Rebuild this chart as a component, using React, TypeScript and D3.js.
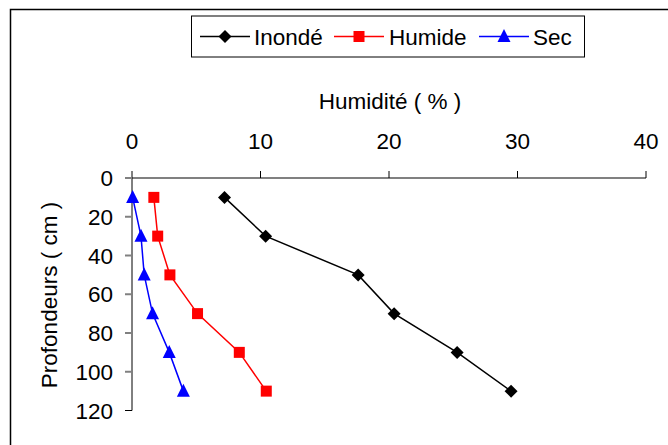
import React from "react";
import * as d3 from "d3";

const depths = [10, 30, 50, 70, 90, 110];
const inonde = [7.2, 10.4, 17.6, 20.4, 25.3, 29.5];
const humide = [1.7, 2.0, 2.95, 5.1, 8.35, 10.45];
const sec = [0.05, 0.7, 0.95, 1.6, 2.9, 4.0];
const xTicks = [0, 10, 20, 30, 40];
const yTicks = [0, 20, 40, 60, 80, 100, 120];
const seriesNames = ["Inondé", "Humide", "Sec"];
const seriesColors = ["#000000", "#ff0000", "#0000ff"];

const FONT = "'Liberation Sans', Arial, sans-serif";
const FS = 22.5;

function Marker({ kind, x, y, color }: { kind: number; x: number; y: number; color: string }) {
  if (kind === 0) {
    const s = 6.5;
    return <path d={`M${x},${y - s}L${x + s},${y}L${x},${y + s}L${x - s},${y}Z`} fill={color} />;
  }
  if (kind === 1) {
    const s = 5.5;
    return <rect x={x - s} y={y - s} width={2 * s} height={2 * s} fill={color} />;
  }
  const s = 6.5;
  return <path d={`M${x},${y - s - 1}L${x + s},${y + s - 1}L${x - s},${y + s - 1}Z`} fill={color} />;
}

export default function App() {
  const x = d3.scaleLinear().domain([0, 40]).range([132, 646]);
  const y = d3.scaleLinear().domain([0, 120]).range([178, 410.5]);
  const data = [inonde, humide, sec];
  const line = d3
    .line<[number, number]>()
    .x((d) => x(d[0]))
    .y((d) => y(d[1]));

  const legendItems = [
    { lx: 200, tx: 254 },
    { lx: 334, tx: 389 },
    { lx: 479, tx: 533 },
  ];

  return (
    <svg
      width={668}
      height={445}
      style={{ position: "absolute", left: 0, top: 0, background: "#fff" }}
      fontFamily={FONT}
    >
      <rect x={0} y={0} width={668} height={445} fill="#fff" />
      <rect x={10.5} y={9.5} width={700} height={500} fill="none" stroke="#000" strokeWidth={1.5} />

      {/* Legend */}
      <rect x={191.5} y={16} width={393} height={41} fill="#fff" stroke="#000" strokeWidth={1} />
      {seriesNames.map((name, i) => (
        <g key={name}>
          <line x1={legendItems[i].lx} x2={legendItems[i].lx + 50} y1={36.5} y2={36.5} stroke={seriesColors[i]} strokeWidth={1.5} />
          <Marker kind={i} x={legendItems[i].lx + 25} y={36.5} color={seriesColors[i]} />
          <text x={legendItems[i].tx} y={44.5} fontSize={FS} fill="#000">
            {name}
          </text>
        </g>
      ))}

      {/* X axis title */}
      <text x={390} y={109} fontSize={FS} textAnchor="middle" fill="#000">
        Humidité ( % )
      </text>

      {/* X axis */}
      <line x1={x(0)} x2={x(40)} y1={178} y2={178} stroke="#808080" strokeWidth={2} />
      {xTicks.map((t) => (
        <g key={t}>
          <line x1={x(t)} x2={x(t)} y1={171} y2={178} stroke="#000" strokeWidth={1} />
          <text x={x(t)} y={148.5} fontSize={FS} textAnchor="middle" fill="#000">
            {t}
          </text>
        </g>
      ))}

      {/* Y axis */}
      <line x1={132} x2={132} y1={178} y2={y(120)} stroke="#000" strokeWidth={1} />
      {yTicks.map((t) => (
        <g key={t}>
          <line x1={125} x2={132} y1={y(t)} y2={y(t)} stroke={t === 120 ? "#000" : "#808080"} strokeWidth={t === 120 ? 1 : 2} />
          <text x={113} y={y(t) + 8} fontSize={FS} textAnchor="end" fill="#000">
            {t}
          </text>
        </g>
      ))}
      <text
        transform={`translate(57,295) rotate(-90)`}
        fontSize={FS}
        textAnchor="middle"
        fill="#000"
      >
        Profondeurs ( cm )
      </text>

      {/* Series */}
      {data.map((vals, i) => {
        const pts: [number, number][] = vals.map((v, j) => [v, depths[j]]);
        return (
          <g key={i}>
            <path d={line(pts) || ""} fill="none" stroke={seriesColors[i]} strokeWidth={1.5} />
            {pts.map((p, j) => (
              <Marker key={j} kind={i} x={x(p[0])} y={y(p[1])} color={seriesColors[i]} />
            ))}
          </g>
        );
      })}
    </svg>
  );
}
